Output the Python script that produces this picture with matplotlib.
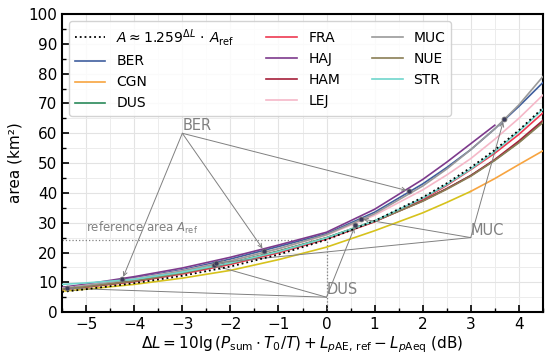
import matplotlib
matplotlib.use("Agg")
import matplotlib.pyplot as plt
from matplotlib.ticker import MultipleLocator

plt.rcParams['font.family'] = ['DejaVu Sans']
plt.rcParams['mathtext.fontset'] = 'dejavusans'

# ---- data ----
x_pts = [-5.5, -5, -4, -3, -2, -1, 0, 1, 2, 2.5, 3, 3.5, 4, 4.5]
formula_y = [6.8, 7.7, 9.7, 12.2, 15.3, 19.3, 24.3, 30.6, 38.5, 43.2, 48.5, 54.4, 61.0, 68.5]

airports = ['BER', 'CGN', 'DUS', 'FRA', 'HAJ', 'HAM', 'LEJ', 'MUC', 'NUE', 'STR']
BER = [8.2, 9.2, 11.5, 14.2, 17.8, 22.0, 26.3, 33.5, 43.0, 48.5, 54.5, 61.5, 69.0, 77.0]
CGN = [7.0, 7.7, 9.3, 11.4, 14.0, 17.6, 21.8, 27.3, 33.3, 36.8, 40.5, 44.8, 49.5, 54.1]
DUS = [7.8, 8.6, 10.5, 13.3, 16.6, 20.5, 25.0, 30.6, 37.4, 41.4, 45.8, 51.0, 57.0, 63.8]
FRA = [7.6, 8.4, 10.2, 12.8, 16.0, 19.9, 24.5, 30.3, 37.8, 42.5, 47.8, 53.3, 59.6, 66.8]
HAJ_x = [-5.5, -5, -4, -3, -2, -1, 0, 1, 2, 2.5, 3, 3.5]
HAJ = [8.3, 9.4, 11.9, 14.8, 18.4, 22.5, 26.8, 34.5, 44.5, 50.3, 56.5, 62.7]
HAM = [7.7, 8.5, 10.4, 13.1, 16.4, 20.3, 24.8, 30.4, 37.3, 41.4, 45.8, 51.2, 57.4, 64.3]
LEJ = [8.0, 9.0, 11.2, 13.9, 17.2, 21.2, 25.8, 32.5, 41.0, 46.0, 51.5, 58.0, 65.0, 72.8]
MUC = [7.9, 8.9, 11.0, 13.8, 17.2, 21.3, 26.0, 33.0, 42.3, 48.0, 54.5, 61.5, 69.5, 79.0]
NUE = [7.7, 8.5, 10.4, 13.1, 16.4, 20.4, 24.9, 30.5, 37.2, 41.2, 45.6, 50.9, 56.8, 63.6]
STR = [9.3, 9.8, 11.0, 13.4, 16.5, 20.3, 24.9, 30.6, 38.2, 42.8, 48.0, 53.9, 60.6, 68.0]

colors = {'BER': '#3f5f9e', 'CGN': '#f7a440', 'DUS': '#2a8a5a', 'FRA': '#ee3a52',
          'HAJ': '#7d3a8c', 'HAM': '#a51f3a', 'LEJ': '#f5b8c8', 'MUC': '#9a9a9a',
          'NUE': '#8a7e55', 'STR': '#6fd6cc'}
CGN_low_color = '#d6c21c'

A_ref = 24.3

BER_mx = [-4.25, -1.3, 1.72]
BER_my = [11.0, 20.6, 40.6]
DUS_mx = [-5.4, -2.35, 0.6]
DUS_my = [8.0, 15.7, 29.2]
MUC_mx = [-2.3, 0.71, 3.69]
MUC_my = [16.5, 31.3, 64.7]

label_pos = {'BER': (-3.0, 60.0), 'DUS': (0.0, 5.0), 'MUC': (3.0, 25.0)}

# ---- figure ----
fig = plt.figure(figsize=(5.5, 3.6), dpi=100)
ax = fig.add_axes([0.113, 0.133, 0.874, 0.828])

ax.set_xlim(-5.5, 4.5)
ax.set_ylim(0, 100)
ax.xaxis.set_major_locator(MultipleLocator(1))
ax.xaxis.set_minor_locator(MultipleLocator(0.5))
ax.yaxis.set_major_locator(MultipleLocator(10))
ax.yaxis.set_minor_locator(MultipleLocator(5))
ax.grid(which='major', color='#e3e3e3', lw=0.8, zorder=0)
ax.grid(which='minor', color='#ececec', lw=0.7, zorder=0)
ax.set_axisbelow(True)
ax.tick_params(which='both', direction='in', labelsize=11)
ax.tick_params(which='major', length=5, width=1.2)
ax.tick_params(which='minor', length=3, width=1.0)
for s in ax.spines.values():
    s.set_linewidth(1.5)
    s.set_color('black')

# reference area
ax.plot([-5.5, 0], [A_ref, A_ref], ls=':', color='gray', lw=0.9, zorder=2)
ax.plot([0, 0], [0, A_ref], ls=':', color='gray', lw=0.9, zorder=2)
ax.text(-5.0, A_ref + 1.3, r'reference area $A_{\mathrm{ref}}$', color='gray', fontsize=8.5,
        ha='left', va='bottom')

series = {'BER': (x_pts, BER), 'CGN': (x_pts, CGN), 'DUS': (x_pts, DUS), 'FRA': (x_pts, FRA),
          'HAJ': (HAJ_x, HAJ), 'HAM': (x_pts, HAM), 'LEJ': (x_pts, LEJ), 'MUC': (x_pts, MUC),
          'NUE': (x_pts, NUE), 'STR': (x_pts, STR)}

handles = []
h_formula, = ax.plot(x_pts, formula_y, ls=':', color='black', lw=1.3, zorder=5,
                     label=r'$A \approx 1.259^{\Delta L}\, \cdot \,A_{\mathrm{ref}}$')
handles.append(h_formula)
for name in airports:
    xs, ys = series[name]
    if name == 'CGN':
        ax.plot(xs[:-3], ys[:-3], color=CGN_low_color, lw=1.2, zorder=3)
        h, = ax.plot(xs[-4:], ys[-4:], color=colors[name], lw=1.2, zorder=3, label=name)
    else:
        h, = ax.plot(xs, ys, color=colors[name], lw=1.2, zorder=3, label=name)
    handles.append(h)

# markers and annotations
marks = {'BER': (BER_mx, BER_my), 'DUS': (DUS_mx, DUS_my), 'MUC': (MUC_mx, MUC_my)}
for name, (mx, my) in marks.items():
    ax.plot(mx, my, ls='none', marker='o', ms=3.5, mfc='#3a3a5a', mec='#777777', mew=0.6, zorder=6)
    for px, py in zip(mx, my):
        ax.annotate('', xy=(px, py), xytext=label_pos[name],
                    arrowprops=dict(arrowstyle='->', color='gray', lw=0.7,
                                    shrinkA=0, shrinkB=2, mutation_scale=7), zorder=4)
    ax.text(label_pos[name][0], label_pos[name][1], name, color='gray', fontsize=10.5,
            ha='left', va='bottom', zorder=7)

ax.set_xlabel(r'$\Delta L = 10\mathrm{lg}\,(P_{\mathrm{sum}} \cdot T_0/T) + L_{p\mathrm{AE,\,ref}} - L_{p\mathrm{Aeq}}$ (dB)',
              fontsize=11, labelpad=2)
ax.set_ylabel('area (km²)', fontsize=11, labelpad=4)

leg = ax.legend(handles=handles, ncol=3, loc='upper left', fontsize=10, frameon=True,
                fancybox=True, framealpha=0.85, edgecolor='#cccccc',
                handlelength=2.2, columnspacing=2.3, labelspacing=0.5, borderaxespad=0.5)
leg.set_zorder(10)

fig.savefig('out.png', dpi=100)
